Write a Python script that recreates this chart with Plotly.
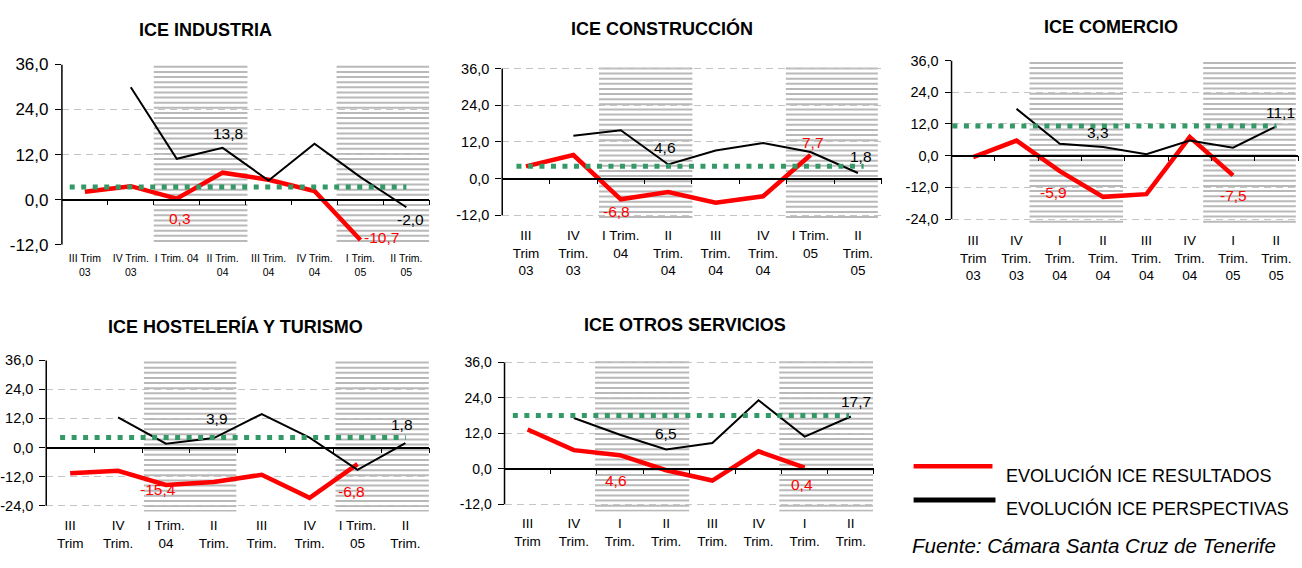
import plotly.graph_objects as go

W, H = 1302, 568

# ---------------- data ----------------
categories = ["III Trim 03", "IV Trim. 03", "I Trim. 04", "II Trim. 04",
              "III Trim. 04", "IV Trim. 04", "I Trim. 05", "II Trim. 05"]

labels_a = ["III Trim<br>03", "IV Trim.<br>03", "I Trim. 04", "II Trim.<br>04",
            "III Trim.<br>04", "IV Trim.<br>04", "I Trim.<br>05", "II Trim.<br>05"]
labels_b = ["III<br>Trim<br>03", "IV<br>Trim.<br>03", "I Trim.<br>04", "II<br>Trim.<br>04",
            "III<br>Trim.<br>04", "IV<br>Trim.<br>04", "I Trim.<br>05", "II<br>Trim.<br>05"]
labels_c = ["III<br>Trim<br>03", "IV<br>Trim.<br>03", "I<br>Trim.<br>04", "II<br>Trim.<br>04",
            "III<br>Trim.<br>04", "IV<br>Trim.<br>04", "I<br>Trim.<br>05", "II<br>Trim.<br>05"]
# bottom-row charts: the year line falls below the picture's lower edge
labels_b_cut = ["III<br>Trim", "IV<br>Trim.", "I Trim.<br>04", "II<br>Trim.",
                "III<br>Trim.", "IV<br>Trim.", "I Trim.<br>05", "II<br>Trim."]
labels_c_cut = ["III<br>Trim", "IV<br>Trim.", "I<br>Trim.", "II<br>Trim.",
                "III<br>Trim.", "IV<br>Trim.", "I<br>Trim.", "II<br>Trim."]

yticks_48 = [-12, 0, 12, 24, 36]
ytext_48 = ["-12,0", "0,0", "12,0", "24,0", "36,0"]
yticks_60 = [-24, -12, 0, 12, 24, 36]
ytext_60 = ["-24,0", "-12,0", "0,0", "12,0", "24,0", "36,0"]

industria_res = [2.1, 3.6, 0.3, 7.2, 5.3, 2.3, -10.7, None]
industria_per = [None, 29.9, 10.9, 13.8, 5.1, 14.9, 6.0, -2.0]
industria_media = 3.4

construccion_res = [4.0, 7.7, -6.8, -4.4, -7.9, -5.8, 7.7, None]
construccion_per = [None, 14.0, 15.8, 4.6, 9.2, 11.6, 8.7, 1.8]
construccion_media = 4.0

comercio_res = [-0.6, 5.7, -5.9, -15.6, -14.6, 7.0, -7.5, None]
comercio_per = [None, 17.7, 4.5, 3.3, 0.5, 5.7, 3.0, 11.1]
comercio_media = 11.2

hosteleria_res = [-10.6, -9.6, -15.4, -14.2, -11.2, -20.7, -6.8, None]
hosteleria_per = [None, 12.4, 1.6, 3.9, 13.8, 4.1, -9.2, 1.8]
hosteleria_media = 4.1

otros_res = [13.3, 6.3, 4.6, -0.5, -4.0, 5.9, 0.4, None]
otros_per = [None, 17.2, 11.5, 6.5, 8.7, 23.2, 10.9, 17.7]
otros_media = 18.0

res_label_idx = [2, 6]
per_label_idx = [3, 7]

legend_names = ["EVOLUCIÓN ICE RESULTADOS", "EVOLUCIÓN ICE PERSPECTIVAS"]
source_text = "Fuente: Cámara Santa Cruz de Tenerife"

charts = [
    dict(title="ICE INDUSTRIA", res=industria_res, per=industria_per, media=industria_media,
         ticktext=labels_a, yv=yticks_48, yt=ytext_48),
    dict(title="ICE CONSTRUCCIÓN", res=construccion_res, per=construccion_per, media=construccion_media,
         ticktext=labels_b, yv=yticks_48, yt=ytext_48),
    dict(title="ICE COMERCIO", res=comercio_res, per=comercio_per, media=comercio_media,
         ticktext=labels_c, yv=yticks_60, yt=ytext_60),
    dict(title="ICE HOSTELERÍA Y TURISMO", res=hosteleria_res, per=hosteleria_per, media=hosteleria_media,
         ticktext=labels_b_cut, yv=yticks_60, yt=ytext_60),
    dict(title="ICE OTROS SERVICIOS", res=otros_res, per=otros_per, media=otros_media,
         ticktext=labels_c_cut, yv=yticks_48, yt=ytext_48),
]

# ---------------- layout / style (pixels) ----------------
geom = [
    dict(px=(60, 428), py=(57.3, 244.0), yr=(-12.0, 36.0), bands=[(1.5, 3.54), (5.48, 7.5)],
         green=(-0.33, 7.0), xfont=10.5, xstand=6, yfont=17, title=(204, 22),
         offs=[(3, -20), (21, 2), (5, 14), (4, -12)]),
    dict(px=(501, 881), py=(59.0, 220.0), yr=(-14.12, 36.85), bands=[(1.54, 3.51), (5.48, 7.42)],
         green=(-0.2, 7.12), xfont=13.5, xstand=4, yfont=14.5, title=(661, 20),
         offs=[(-4.5, -12), (2.5, 12.4), (-3, 16.5), (3, 17)]),
    dict(px=(951, 1298), py=(53.3, 225.0), yr=(-26.82, 36.0), bands=[(1.3, 3.46), (5.31, 7.45)],
         green=(-0.48, 7.0), xfont=13.5, xstand=4, yfont=14.5, title=(1111, 19),
         offs=[(-6, -21), (0, -20.5), (-5.6, 14), (4, 13.7)]),
    dict(px=(44.3, 428), py=(363.3, 520.0), yr=(-26.39, 36.0), bands=[(1.54, 3.47), (5.54, 7.49)],
         green=(-0.21, 7.01), xfont=13.5, xstand=4, yfont=14.5, title=(234, 328),
         offs=[(-8, -4.3), (-5.6, -27.5), (3, 19.6), (-3.6, 19)]),
    dict(px=(503.3, 873.3), py=(363.0, 520.0), yr=(-14.52, 36.88), bands=[(1.46, 3.5), (5.45, 7.48)],
         green=(-0.32, 6.96), xfont=13.5, xstand=2, yfont=14, title=(684, 327),
         offs=[(-4, -25.7), (-2.6, -17), (0, 16), (5, 15)]),
]

FONT = "Liberation Sans, Arial, sans-serif"
RED = "#ff0000"
GREEN = "#339966"
STRIPE = "#b9b9b9"


def fmt(v):
    return f"{v:.1f}".replace(".", ",")


def aid(letter, k):
    return letter if k == 1 else f"{letter}{k}"


fig = go.Figure()
shapes = []
annotations = []
layout_axes = {}
n = len(categories)
xs = list(range(n))

for i, (c, g) in enumerate(zip(charts, geom), start=1):
    xa, ya, xo = aid("x", i), aid("y", i), aid("x", i + 5)
    x0p, x1p = g["px"]
    ytp, ybp = g["py"]
    y0r, y1r = g["yr"]
    dom_x = [x0p / W, x1p / W]
    dom_y = [1 - ybp / H, 1 - ytp / H]
    ppu = (ybp - ytp) / (y1r - y0r)

    fig.add_trace(go.Scatter(x=xs, y=c["res"], mode="lines", line=dict(color=RED, width=4.5),
                             xaxis=xa, yaxis=ya, showlegend=False, hoverinfo="skip"))
    fig.add_trace(go.Scatter(x=xs, y=c["per"], mode="lines", line=dict(color="black", width=2),
                             xaxis=xa, yaxis=ya, showlegend=False, hoverinfo="skip"))
    fig.add_trace(go.Scatter(x=list(g["green"]), y=[c["media"], c["media"]], mode="lines",
                             line=dict(color=GREEN, width=5, dash="5px,6.5px"),
                             xaxis=xa, yaxis=ya, showlegend=False, hoverinfo="skip"))
    fig.add_trace(go.Scatter(x=[None], y=[None], xaxis=xo, yaxis=ya,
                             showlegend=False, hoverinfo="skip"))

    layout_axes["xaxis" + ("" if i == 1 else str(i))] = dict(
        domain=dom_x, range=[-0.5, n - 0.5], anchor=ya, tickmode="array",
        tickvals=xs, ticktext=c["ticktext"], tickangle=0, ticks="",
        showgrid=False, zeroline=False, showline=False, ticklabelstandoff=g["xstand"],
        tickfont=dict(size=g["xfont"], color="black", family=FONT), fixedrange=True)
    layout_axes["yaxis" + ("" if i == 1 else str(i))] = dict(
        domain=dom_y, range=[y0r, y1r], anchor=xa, tickmode="array",
        tickvals=c["yv"], ticktext=c["yt"], ticks="outside", ticklen=6,
        tickcolor="black", tickwidth=1, showgrid=True, gridcolor="#c4c4c4",
        griddash="7px,5px", gridwidth=1.3, zeroline=False, showline=False,
        tickfont=dict(size=g["yfont"], color="black", family=FONT), fixedrange=True,
        ticklabelstandoff=3)
    zero_pos = dom_y[0] + (0 - y0r) / (y1r - y0r) * (dom_y[1] - dom_y[0])
    layout_axes[f"xaxis{i + 5}"] = dict(
        overlaying=xa, anchor="free", position=zero_pos, range=[-0.5, n - 0.5],
        tickmode="array", tickvals=[k + 0.5 for k in xs], ticks="outside", ticklen=5,
        tickcolor="black", tickwidth=1, showticklabels=False, showline=True,
        linecolor="black", linewidth=1.5, showgrid=False, zeroline=False, fixedrange=True)

    step = 5.3 / ppu
    for bx0, bx1 in g["bands"]:
        parts = []
        yy = y1r - 2.5 / ppu
        while yy > y0r + 0.5 / ppu:
            parts.append(f"M{bx0},{yy:.4f}H{bx1}")
            yy -= step
        shapes.append(dict(type="path", path="".join(parts), xref=xa, yref=ya,
                           line=dict(color=STRIPE, width=2), layer="below"))

    shapes.append(dict(type="line", xref=f"{xa} domain", x0=0, x1=0, yref=ya,
                       y0=min(c["yv"]), y1=max(c["yv"]),
                       line=dict(color="black", width=1.5), layer="above"))

    lab_pts = [(k, c["res"][k], RED) for k in res_label_idx] + \
              [(k, c["per"][k], "black") for k in per_label_idx]
    for (k, v, col), (dx, dy) in zip(lab_pts, g["offs"]):
        annotations.append(dict(x=k, y=v, xref=xa, yref=ya, text=fmt(v), showarrow=False,
                                xanchor="center", yanchor="middle", xshift=dx, yshift=dy,
                                font=dict(size=15.5, color=col, family=FONT)))

    tx, ty = g["title"]
    annotations.append(dict(x=tx / W, y=1 - ty / H, xref="paper", yref="paper",
                            text=f"<b>{c['title']}</b>", showarrow=False,
                            xanchor="center", yanchor="middle",
                            font=dict(size=18, color="black", family=FONT)))

# manual legend
shapes.append(dict(type="line", xref="paper", yref="paper", x0=913 / W, x1=992 / W,
                   y0=1 - 473 / H, y1=1 - 473 / H, line=dict(color=RED, width=4.5)))
shapes.append(dict(type="line", xref="paper", yref="paper", x0=913 / W, x1=995 / W,
                   y0=1 - 508 / H, y1=1 - 508 / H, line=dict(color="black", width=5)))
annotations.append(dict(x=1004 / W, y=1 - 483 / H, xref="paper", yref="paper",
                        text=legend_names[0], showarrow=False, xanchor="left", yanchor="middle",
                        font=dict(size=18, color="black", family=FONT)))
annotations.append(dict(x=1004 / W, y=1 - 517 / H, xref="paper", yref="paper",
                        text=legend_names[1], showarrow=False, xanchor="left", yanchor="middle",
                        font=dict(size=18, color="black", family=FONT)))
annotations.append(dict(x=910 / W, y=0, xref="paper", yref="paper", borderpad=0,
                        text=f"<i>{source_text}</i>", showarrow=False, xanchor="left",
                        yanchor="bottom", font=dict(size=20.5, color="black", family=FONT)))

fig.update_layout(
    width=W, height=H, margin=dict(l=0, r=0, t=0, b=0),
    paper_bgcolor="white", plot_bgcolor="white", showlegend=False,
    font=dict(family=FONT, color="black"),
    shapes=shapes, annotations=annotations, **layout_axes)

page_css = ("var d=document.documentElement,b=document.body;"
            "d.style.margin='0';d.style.padding='0';d.style.overflow='hidden';d.style.height='568px';"
            "b.style.margin='0';b.style.padding='0';b.style.overflow='hidden';b.style.height='568px';")
fig.write_html("out.html", config={"displayModeBar": False}, post_script=page_css)
